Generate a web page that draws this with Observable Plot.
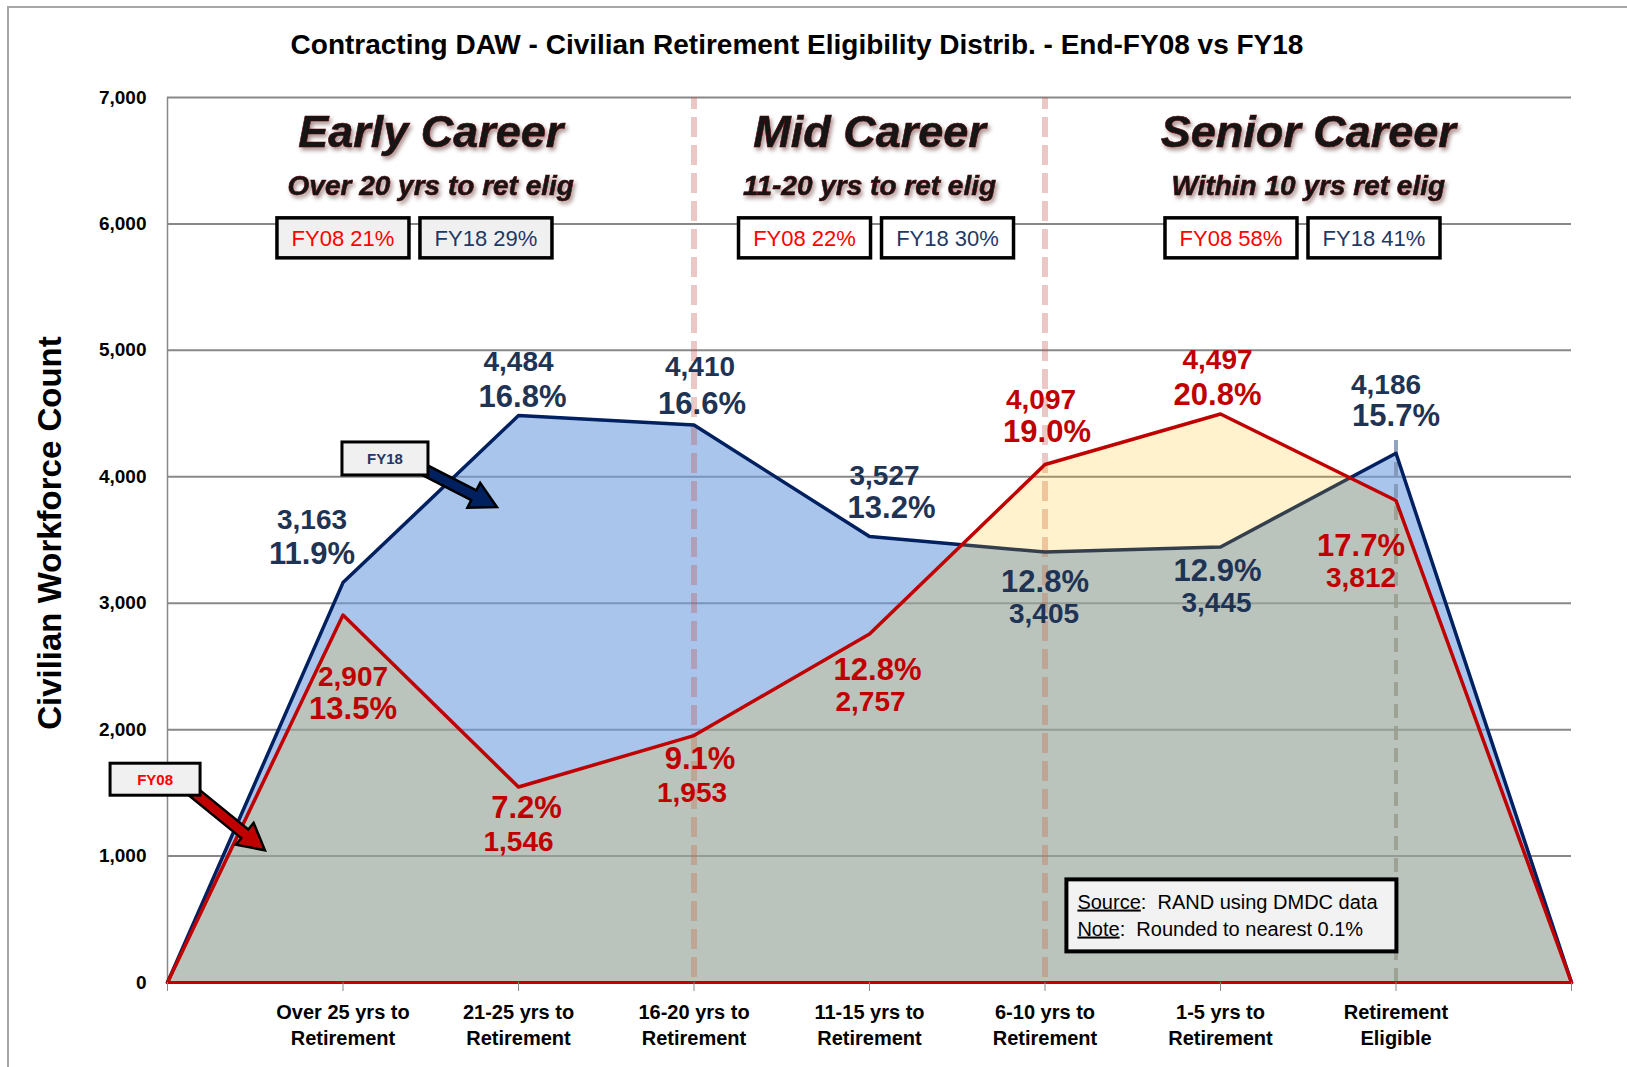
<!DOCTYPE html>
<html>
<head>
<meta charset="utf-8">
<script src="https://cdn.jsdelivr.net/npm/d3@7"></script>
<script src="https://cdn.jsdelivr.net/npm/@observablehq/plot@0.6"></script>
<style>
  html, body { margin: 0; padding: 0; background: #fff; overflow: hidden; }
  #wrap { position: relative; width: 1627px; height: 1067px; }
  #title { width: 1594px; height: 62px; box-sizing: border-box; padding-top: 28px; line-height: 34px;
           text-align: center; font-family: "Liberation Sans", Arial, sans-serif; font-weight: bold;
           font-size: 28px; color: #000; white-space: nowrap; }
  #border { position: absolute; left: 7px; top: 6px; width: 1700px; height: 1200px;
            border: 2px solid #a6a6a6; pointer-events: none; }
  svg { display: block; }
</style>
</head>
<body>
<div id="wrap">
  <div id="title"></div>
  <div id="chart"></div>
  <div id="border"></div>
</div>
<script>
// ---------------- data ----------------
const chartTitle = "Contracting DAW - Civilian Retirement Eligibility Distrib. - End-FY08 vs FY18";
const yTitle = "Civilian Workforce Count";
const categories = [
  "Over 25 yrs to\nRetirement", "21-25 yrs to\nRetirement", "16-20 yrs to\nRetirement",
  "11-15 yrs to\nRetirement", "6-10 yrs to\nRetirement", "1-5 yrs to\nRetirement", "Retirement\nEligible"
];
const fy18 = [3163, 4484, 4410, 3527, 3405, 3445, 4186];
const fy08 = [2907, 1546, 1953, 2757, 4097, 4497, 3812];
const fy18Pct = [11.9, 16.8, 16.6, 13.2, 12.8, 12.9, 15.7];
const fy08Pct = [13.5, 7.2, 9.1, 12.8, 19.0, 20.8, 17.7];
const sections = ["Early Career", "Mid Career", "Senior Career"];
const sectionNotes = ["Over 20 yrs to ret elig", "11-20 yrs to ret elig", "Within 10 yrs ret elig"];
const fy08Share = [21, 22, 58];
const fy18Share = [29, 30, 41];
const yTicks = [0, 1000, 2000, 3000, 4000, 5000, 6000, 7000];
const sourceNote = ["Source", "RAND using DMDC data"];
const roundNote = ["Note", "Rounded to nearest 0.1%"];

// ---------------- layout (positions / styles) ----------------
const xDomain = [0, categories.length + 1];
const xTickPositions = d3.range(xDomain[0], xDomain[1] + 1);
const dividerX = [3, 5];
const eligibleRule = {x: 7, top: 4340};
const headerX = [1.5, 4.0, 6.5];
const headerY = 6725, noteY = 6297;
const yTitlePos = 3555;
const boxGroupX = [1.41, 4.04, 6.47];
const boxY = 5886;
const boxFill = ["#f0f0f0", "#ffffff", "#ffffff"];
// [dxCount, dyCount, dxPct, dyPct] in pixels
const fy18Offsets = [[-31,-63,-31,-29],[0,-54,4,-19],[6,-58,8,-21],[15,-61,22,-29],[-1,62,0,30],[-4,56,-3,24],[-10,-68,0,-37]];
const fy08Offsets = [[10,62,10,94],[0,55,8,21],[-2,57,6,23],[1,68,8,36],[-4,-64,2,-32],[-3,-54,-3,-19],[-35,77,-35,46]];
const callouts = [
  {label: "FY18", color: "#1f3864", arrow: "#002060", box: [1.242, 4141], start: [1.328, 4149], tip: [1.880, 3756], w: 86, h: 33},
  {label: "FY08", color: "#ff0000", arrow: "#c00000", box: [-0.068, 1604], start: [0.103, 1557], tip: [0.558, 1042], w: 90, h: 32}
];
const noteBox = {x: 6.065, y: 527, w: 330, h: 72};

const FONT = '"Liberation Sans", Arial, sans-serif';
const navy = "#002060", red = "#c00000", navyText = "#1f3354";

document.getElementById("title").textContent = chartTitle;

const points = [
  {x: xDomain[0], fy18: 0, fy08: 0},
  ...categories.map((c, i) => ({x: i + 1, fy18: fy18[i], fy08: fy08[i]})),
  {x: xDomain[1], fy18: 0, fy08: 0}
];

const labelMarks = [];
[[fy18, fy18Pct, fy18Offsets, navyText], [fy08, fy08Pct, fy08Offsets, red]].forEach(([vals, pcts, offs, color]) => {
  vals.forEach((v, i) => {
    const [dxC, dyC, dxP, dyP] = offs[i];
    labelMarks.push(Plot.text([v], {x: () => i + 1, y: d => d, text: d => d3.format(",")(d),
      dx: dxC, dy: dyC, fill: color, fontSize: 28, fontWeight: "bold", fontFamily: FONT, lineAnchor: "middle"}));
    labelMarks.push(Plot.text([pcts[i]], {x: () => i + 1, y: () => v, text: d => d.toFixed(1) + "%",
      dx: dxP, dy: dyP, fill: color, fontSize: 31, fontWeight: "bold", fontFamily: FONT, lineAnchor: "middle"}));
  });
});

const chart = Plot.plot({
  width: 1627,
  height: 1005,
  marginTop: 35,
  marginBottom: 85,
  marginLeft: 167,
  marginRight: 56,
  style: {fontFamily: FONT, fontSize: "20px", color: "#000", background: "transparent", overflow: "visible"},
  x: {domain: xDomain, label: null},
  y: {domain: [0, 7000], label: null},
  marks: [
    Plot.ruleY(yTicks, {stroke: "#888", strokeWidth: 2}),
    Plot.ruleX([xDomain[0]], {stroke: "#888", strokeWidth: 1.5}),
    Plot.areaY(points, {x: "x", y: "fy18", fill: "#709ede", fillOpacity: 0.6}),
    Plot.ruleX(dividerX, {y1: 0, y2: 7000, insetTop: -5, stroke: "#c0504d", strokeOpacity: 0.32, strokeWidth: 6, strokeDasharray: "20,8"}),
    Plot.ruleX([eligibleRule.x], {y1: 0, y2: eligibleRule.top, stroke: "#7f93b3", strokeOpacity: 0.85, strokeWidth: 4, strokeDasharray: "14,8"}),
    Plot.line(points, {x: "x", y: "fy18", stroke: navy, strokeWidth: 3.5}),
    Plot.areaY(points, {x: "x", y: "fy08", fill: "#ffc000", fillOpacity: 0.2}),
    Plot.line(points, {x: "x", y: "fy08", stroke: red, strokeWidth: 3.5}),
    Plot.ruleY([0], {x1: xDomain[0], x2: xDomain[1], stroke: red, strokeWidth: 3}),
    Plot.axisX(xTickPositions, {tickSize: 9, tickPadding: 9, stroke: "#888", fill: "#000", label: null,
      tickFormat: d => categories[d - 1] ?? "", fontSize: 20, fontWeight: "bold", lineHeight: 1.3, fontFamily: FONT}),
    Plot.axisY(yTicks, {tickSize: 0, tickPadding: 21, tickFormat: d3.format(","), label: null, fontSize: 19, fontWeight: "bold", fontFamily: FONT, fill: "#000"}),
    Plot.text([yTitle], {x: () => xDomain[0], y: () => yTitlePos, rotate: -90, dx: -117, textAnchor: "middle", lineAnchor: "middle",
      fontSize: 33, fontWeight: "bold", fontFamily: FONT, fill: "#000"}),
    Plot.text(sections, {x: (d, i) => headerX[i], y: () => headerY, text: d => d, fontSize: 45, fontWeight: "bold", fontStyle: "italic", fontFamily: FONT, fill: "#151515", lineAnchor: "middle"}),
    Plot.text(sectionNotes, {x: (d, i) => headerX[i], y: () => noteY, text: d => d, fontSize: 28, fontWeight: "bold", fontStyle: "italic", fontFamily: FONT, fill: "#151515", lineAnchor: "middle"}),
    ...labelMarks
  ]
});

document.getElementById("chart").appendChild(chart);

// ---------------- annotations positioned through the plot's scales ----------------
const sx = chart.scale("x"), sy = chart.scale("y");
const svg = d3.select(chart);

svg.selectAll("text").filter(function () {
  return sections.includes(this.textContent) || sectionNotes.includes(this.textContent);
}).style("filter", "drop-shadow(2px 3px 2px rgba(60,0,0,0.45))")
  .attr("stroke", "#5a0000").attr("stroke-width", 0.6);

const ann = svg.append("g").attr("font-family", FONT).attr("text-anchor", "start");

function arrowPath(x0, y0, x1, y1, shaft, head, headLen) {
  const dx = x1 - x0, dy = y1 - y0, L = Math.hypot(dx, dy), ux = dx / L, uy = dy / L, nx = -uy, ny = ux;
  const bx = x1 - ux * headLen, by = y1 - uy * headLen;
  const p = [
    [x0 + nx * shaft / 2, y0 + ny * shaft / 2], [bx + nx * shaft / 2, by + ny * shaft / 2],
    [bx + nx * head / 2, by + ny * head / 2], [x1, y1],
    [bx - nx * head / 2, by - ny * head / 2], [bx - nx * shaft / 2, by - ny * shaft / 2],
    [x0 - nx * shaft / 2, y0 - ny * shaft / 2]
  ];
  return "M" + p.map(q => q.join(",")).join("L") + "Z";
}

// share boxes
boxGroupX.forEach((gx, i) => {
  const cx = sx.apply(gx), cy = sy.apply(boxY);
  [[fy08Share[i], "FY08", "#ff0000", -71.5], [fy18Share[i], "FY18", "#1f3864", 71.5]].forEach(([v, lab, col, off]) => {
    ann.append("rect").attr("x", cx + off - 66).attr("y", cy - 20).attr("width", 132).attr("height", 40)
      .attr("fill", boxFill[i]).attr("stroke", "#000").attr("stroke-width", 3.5);
    ann.append("text").attr("x", cx + off).attr("y", cy).attr("dy", "0.36em").attr("text-anchor", "middle")
      .attr("font-size", 22).attr("fill", col).text(`${lab} ${v}%`);
  });
});

// callouts with arrows
callouts.forEach(c => {
  const x0 = sx.apply(c.start[0]), y0 = sy.apply(c.start[1]);
  const x1 = sx.apply(c.tip[0]), y1 = sy.apply(c.tip[1]);
  ann.append("path").attr("d", arrowPath(x0, y0, x1, y1, 11, 28, 26))
    .attr("fill", c.arrow).attr("stroke", "#000").attr("stroke-width", 2.5).attr("stroke-linejoin", "miter");
  const bx = sx.apply(c.box[0]), by = sy.apply(c.box[1]);
  ann.append("rect").attr("x", bx - c.w / 2).attr("y", by - c.h / 2).attr("width", c.w).attr("height", c.h)
    .attr("fill", "#f0f0f0").attr("stroke", "#000").attr("stroke-width", 3);
  ann.append("text").attr("x", bx).attr("y", by).attr("dy", "0.36em").attr("text-anchor", "middle")
    .attr("font-size", 15).attr("font-weight", "bold").attr("fill", c.color).text(c.label);
});

// source / note box
{
  const cx = sx.apply(noteBox.x), cy = sy.apply(noteBox.y);
  ann.append("rect").attr("x", cx - noteBox.w / 2).attr("y", cy - noteBox.h / 2).attr("width", noteBox.w).attr("height", noteBox.h)
    .attr("fill", "#f2f2f2").attr("stroke", "#000").attr("stroke-width", 4);
  [[sourceNote, -14], [roundNote, 13]].forEach(([[k, v], dy]) => {
    const t = ann.append("text").attr("x", cx - noteBox.w / 2 + 11).attr("y", cy + dy).attr("dy", "0.36em")
      .attr("text-anchor", "start").attr("font-size", 20).attr("fill", "#000").style("white-space", "pre");
    t.append("tspan").attr("text-decoration", "underline").text(k);
    t.append("tspan").text(":  " + v);
  });
}
</script>
</body>
</html>
